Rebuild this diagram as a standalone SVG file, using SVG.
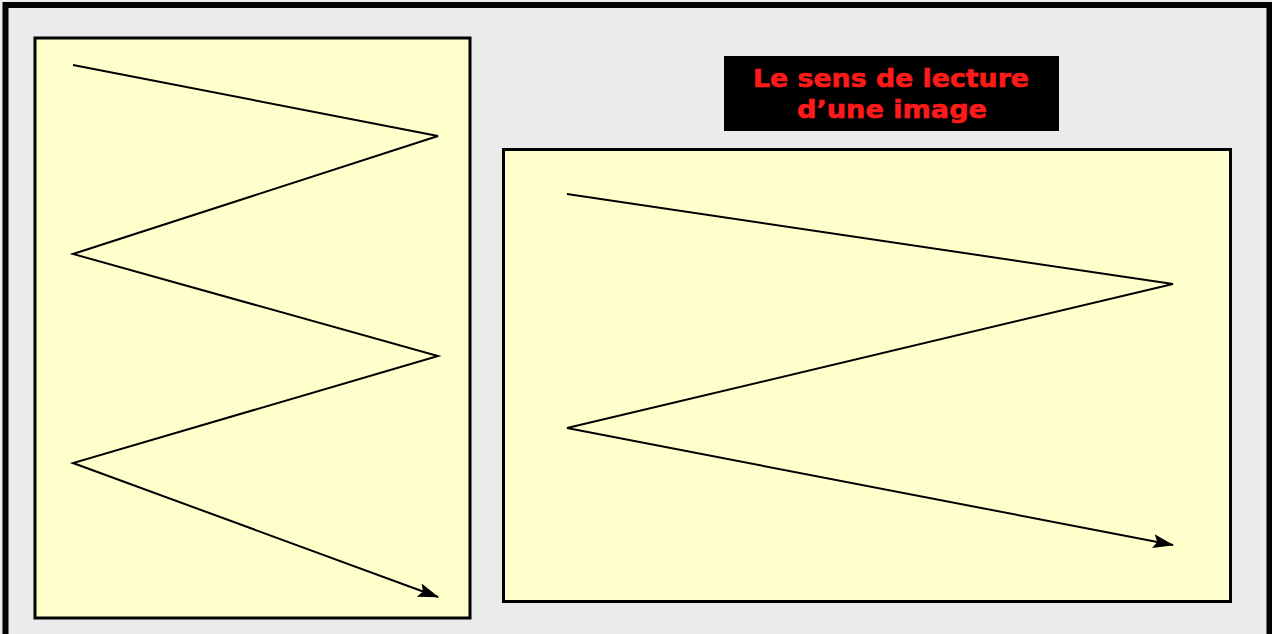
<svg xmlns="http://www.w3.org/2000/svg" width="1272" height="634" viewBox="0 0 1272 634">
<style>
.panel{fill:#ffffcc;stroke:#000;stroke-width:3}
.path{fill:none;stroke:#000;stroke-width:2;stroke-linejoin:miter}
.title{font-family:"DejaVu Sans",sans-serif;font-weight:bold;font-size:24px;fill:#ff1a1a;text-anchor:middle;stroke:#ff1a1a;stroke-width:0.6}
</style>
<defs>
<marker id="arr" markerWidth="22" markerHeight="16" refX="20" refY="8" orient="auto" markerUnits="userSpaceOnUse">
<path d="M0,1 L21,8 L0,15 L4,8 Z" fill="#000"/>
</marker>
</defs>
<rect x="0" y="0" width="1272" height="634" fill="#ebebeb"/>
<rect x="5.5" y="5" width="1264" height="660" fill="none" stroke="#000" stroke-width="6"/>
<g id="left-panel">
<rect class="panel" x="35" y="38" width="435" height="580"/>
</g>
<g id="right-panel">
<rect class="panel" x="503.5" y="149.5" width="727" height="452"/>
</g>
<g id="title">
<rect x="724" y="56" width="335" height="75" fill="#000"/>
<text class="title" x="891" y="87" textLength="276" lengthAdjust="spacingAndGlyphs">Le sens de lecture</text>
<text class="title" x="892" y="118" textLength="190" lengthAdjust="spacingAndGlyphs">d’une image</text>
</g>
<g id="connectors">
<polyline class="path" points="73,65 438,136 73,254 438,356 73,463 438,597" marker-end="url(#arr)"/>
<polyline class="path" points="567,194 1173,284 567,428 1173,545" marker-end="url(#arr)"/>
</g>
</svg>
